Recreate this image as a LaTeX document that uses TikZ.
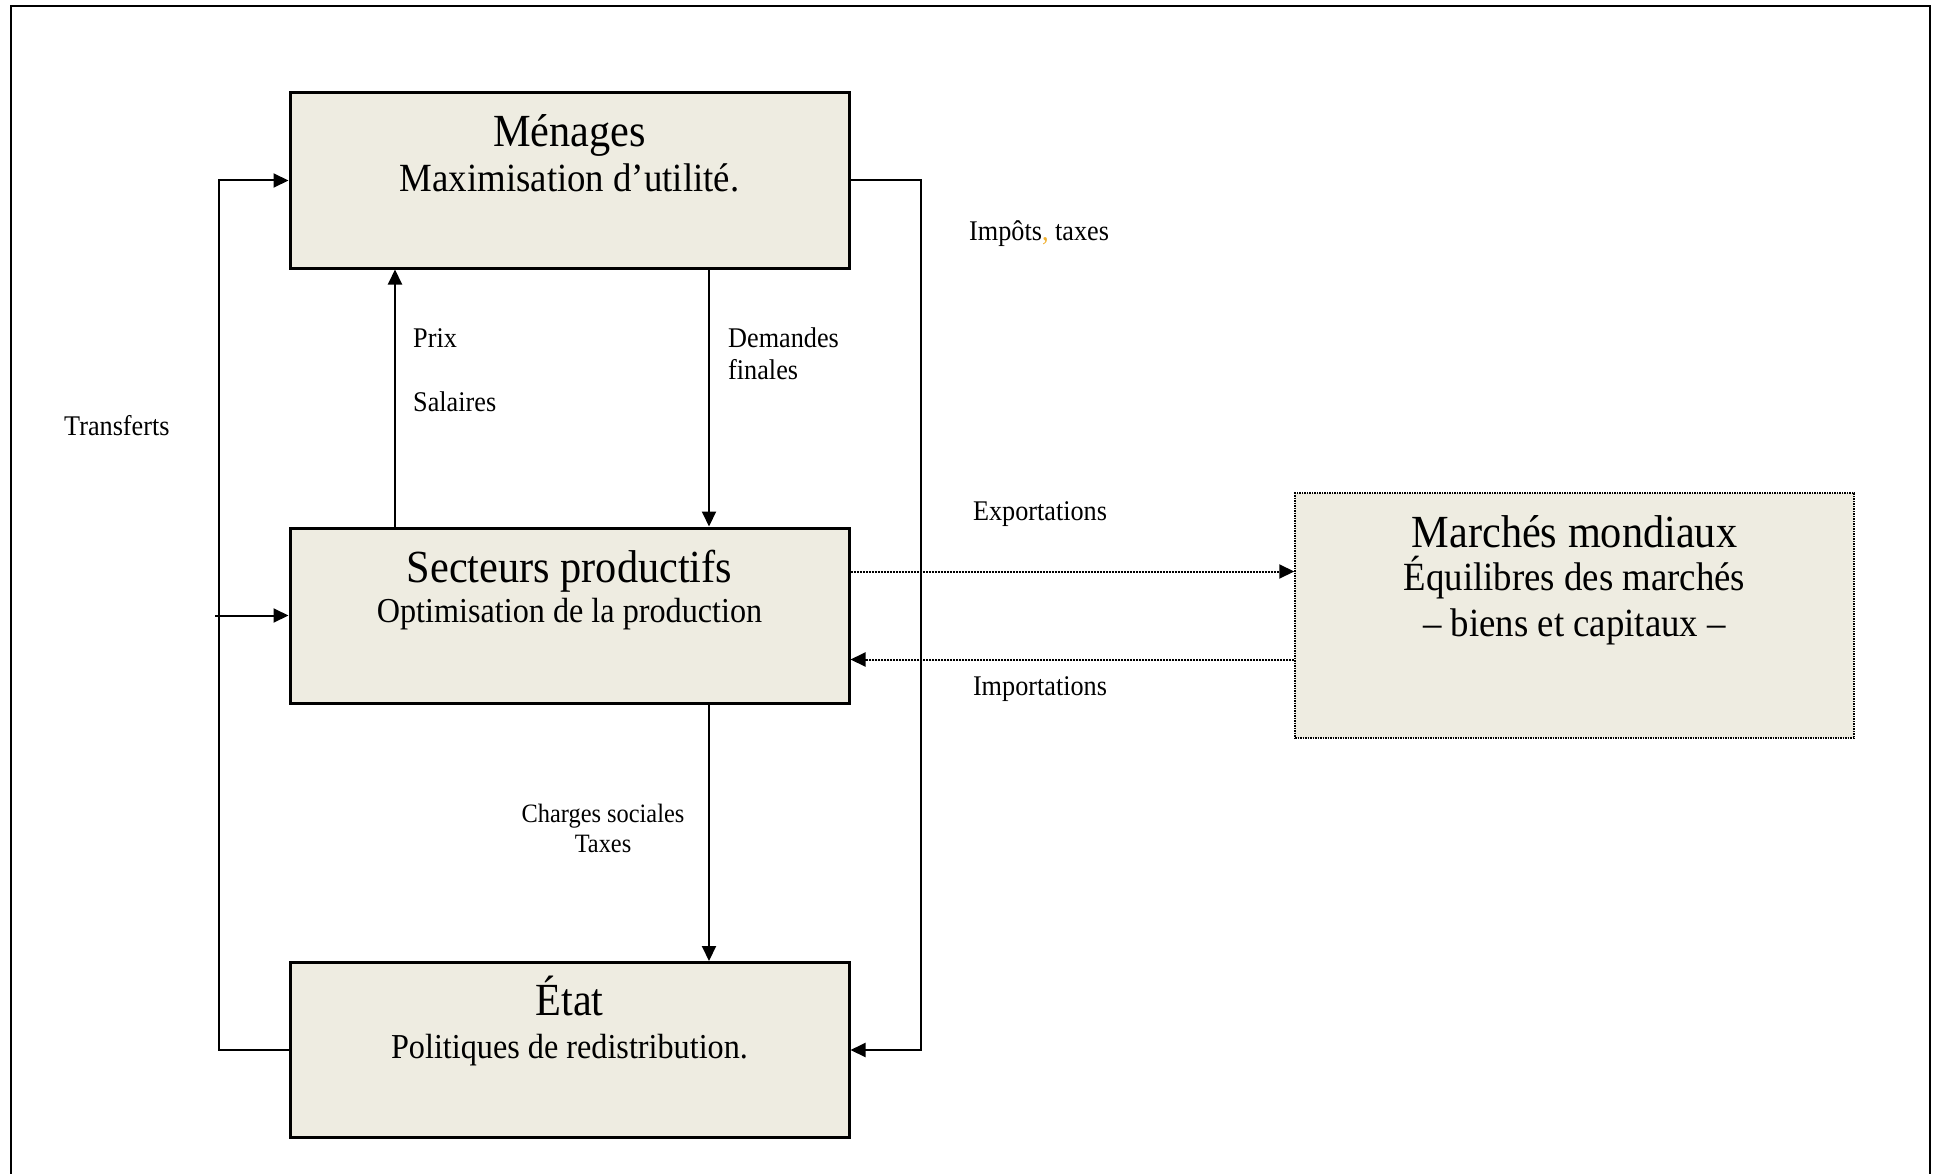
\documentclass[tikz,border=0pt]{standalone}
\usepackage{fontspec}
\setmainfont{Liberation Serif}[FakeStretch=0.92]
\usetikzlibrary{arrows.meta}
\definecolor{boxfill}{HTML}{EEECE1}
\definecolor{commacol}{HTML}{F0B030}
\begin{document}
\begin{tikzpicture}[x=1pt,y=-1pt,
  box/.style={draw, line width=3pt, fill=boxfill, minimum width=559pt,
    minimum height=175pt, inner sep=0pt},
  worldbox/.style={draw, line width=1.5pt, dash pattern=on 1.5pt off 1pt,
    fill=boxfill, minimum width=559pt, minimum height=245pt, inner sep=0pt},
  tip/.style={-{Triangle[length=15pt,width=14pt]}},
  conn/.style={line width=2pt, tip},
  loop/.style={line width=2pt},
  trade/.style={line width=2pt, dash pattern=on 2pt off 1pt, tip},
  title/.style={inner sep=0pt, anchor=base, font=\fontsize{46}{50}\selectfont},
  sub/.style={inner sep=0pt, anchor=base, font=\fontsize{40}{44}\selectfont},
  subsmall/.style={inner sep=0pt, anchor=base, font=\fontsize{35}{39}\selectfont},
  lab/.style={inner sep=0pt, font=\fontsize{28.5}{32}\selectfont},
  smalllab/.style={inner sep=0pt, anchor=base, font=\fontsize{26.5}{30}\selectfont},
]
\useasboundingbox (0,0) rectangle (1934,1174);
% open frame (no bottom edge)
\draw[line width=2.5pt] (11,1174) -- (11,6) -- (1930,6) -- (1930,1174);

% boxes
\node[box] (menages) at (569.5,180.5) {};
\node[box] (secteurs) at (569.5,615.5) {};
\node[box] (etat) at (569.5,1050) {};
\node[worldbox] (monde) at (1574.5,615.5) {};

% box texts
\node[title] (menages-t) at (569.5,147) {Ménages};
\node[sub] (menages-s) at (569.5,192) {Maximisation d’utilité.};
\node[title] (secteurs-t) at (569.5,582) {Secteurs productifs};
\node[subsmall] (secteurs-s) at (569.5,622) {Optimisation de la production};
\node[title] (etat-t) at (569.5,1015) {État};
\node[subsmall] (etat-s) at (569.5,1058) {Politiques de redistribution.};
\node[title] (monde-t) at (1574.5,547) {Marchés mondiaux};
\node[sub] (monde-s) at (1574.5,590) {Équilibres des marchés};
\node[sub] (monde-u) at (1574.5,636) {– biens et capitaux –};

% column positions of the vertical flows
\coordinate (colA) at (395,0);
\coordinate (colB) at (709,0);
\coordinate (tin) at (215,615.5);

% transfers loop on the left, taxes loop on the right
\draw[loop, tip] (etat.west) -- ++(-70,0) |- (menages.west);
\draw[conn] (tin) -- (secteurs.west);
\draw[loop, tip] (menages.east) -- ++(70,0) |- (etat.east);

% vertical flows
\draw[conn] (secteurs.north -| colA) -- (menages.south -| colA);
\draw[conn] (menages.south -| colB) -- (secteurs.north -| colB);
\draw[conn] (secteurs.south -| colB) -- (etat.north -| colB);

% foreign trade
\draw[trade] ([yshift=44pt]secteurs.east) -- ([yshift=44pt]monde.west);
\draw[trade] ([yshift=-44pt]monde.west) -- ([yshift=-44pt]secteurs.east);

% flow labels
\node[lab, anchor=base west] (impots) at (969,241) {Impôts{\color{commacol},} taxes};
\node[lab, anchor=base west] (prix) at (413,347) {Prix};
\node[lab, anchor=base west] (salaires) at (413,411) {Salaires};
\node[lab, anchor=base west] (demandes) at (728,347) {Demandes};
\node[lab, anchor=base west] (finales) at (728,379) {finales};
\node[lab, anchor=base west] (transferts) at (64,435) {Transferts};
\node[lab, anchor=base] (export) at (1040,520) {Exportations};
\node[lab, anchor=base] (import) at (1040,695) {Importations};
\node[smalllab] (charges) at (603,822) {Charges sociales};
\node[smalllab] (taxes) at (603,852) {Taxes};
\end{tikzpicture}
\end{document}
